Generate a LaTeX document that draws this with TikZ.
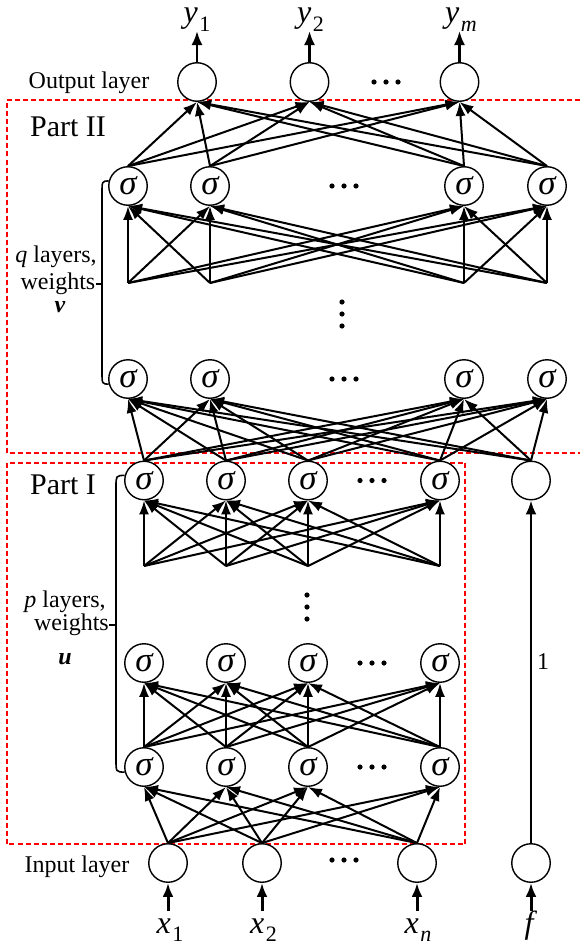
\documentclass[tikz,border=0pt]{standalone}
\usepackage{fontspec}
\setmainfont{Liberation Serif}
\usetikzlibrary{arrows.meta}

% three horizontal / vertical dots
\newcommand\dotsrow[2]{\foreach \k in {-1,0,1} {\fill (#1+\k*12,#2) circle (2.6pt);}}
\newcommand\dotscol[2]{\foreach \k in {-1,0,1} {\fill (#1,#2+\k*12) circle (2.6pt);}}
% variable with lowered subscript
\newcommand\varlab[2]{\textit{#1}\hspace{1.5pt}\raisebox{-8.5pt}{\fontsize{22}{22}\selectfont #2}}

\tikzset{
  neuron/.style={circle, draw, line width=1.4pt, minimum size=38.5pt, inner sep=0pt, fill=white},
  sig/.style={neuron, font=\fontsize{35}{35}\selectfont\itshape},
  conn/.style={line width=2pt, -{Latex[length=14pt,width=10pt]}},
  ioarrow/.style={line width=3pt, -{Latex[length=14pt,width=11pt]}},
  outarrow/.style={line width=2.4pt, -{Latex[length=14pt,width=11pt]}},
  redbox/.style={red, line width=2pt, dash pattern=on 5pt off 3pt},
  lab/.style={inner sep=0pt, font=\fontsize{24}{28}\selectfont},
  parttitle/.style={inner sep=0pt, font=\fontsize{30}{34}\selectfont},
  varname/.style={inner sep=0pt, anchor=base, font=\fontsize{32}{34}\selectfont},
  brace/.style={line width=1.6pt}
}

\begin{document}
\begin{tikzpicture}[x=1pt, y=-1pt]
\useasboundingbox (0,0) rectangle (580,947);

% ---- part boxes ----
\draw[redbox] (580,100.5) -- (7,100.5) -- (7,452.7) -- (580,452.7);
\draw[redbox] (7,462.5) rectangle (465.4,844);

% ---- output layer ----
\node[neuron] (o1) at (197,82) {};
\node[neuron] (o2) at (309.5,82) {};
\node[neuron] (o3) at (459.5,82) {};
\dotsrow{386}{82}
\node[lab] (outlab) at (89,83) {Output layer};

% ---- part II ----
\node[parttitle] (p2lab) at (68,127) {Part II};
\foreach \n/\x in {1/128,2/210,3/464,4/547} {
  \node[sig] (a\n) at (\x,186) {σ};
  \node[sig] (b\n) at (\x,379) {σ};
  \coordinate (q\n) at (\x,283);
}
\dotsrow{344}{186}
\dotsrow{344}{379}
\dotscol{342}{314}

% ---- part I ----
\node[parttitle] (p1lab) at (63,485) {Part I};
\foreach \n/\x in {1/144,2/226,3/308,4/440} {
  \node[sig] (c\n) at (\x,480.5) {σ};
  \node[sig] (d\n) at (\x,663) {σ};
  \node[sig] (g\n) at (\x,767) {σ};
  \coordinate (r\n) at (\x,566);
}
\node[neuron] (pc) at (531,480.5) {};
\dotsrow{372}{480.5}
\dotsrow{372}{663}
\dotsrow{372}{767}
\dotscol{307}{607}

% ---- input layer ----
\node[neuron] (i1) at (168,863) {};
\node[neuron] (i2) at (262,863) {};
\node[neuron] (i3) at (417,863) {};
\node[neuron] (fin) at (531,863) {};
\dotsrow{344}{860}
\node[lab] (inlab) at (77,867) {Input layer};

% ---- connections ----
\foreach \s in {i1,i2,i3} \foreach \t in {g1,g2,g3,g4} \draw[conn] (\s.north) -- (\t.south);
\foreach \s in {g1,g2,g3,g4} \foreach \t in {d1,d2,d3,d4} \draw[conn] (\s.north) -- (\t.south);
\foreach \s in {r1,r2,r3,r4} \foreach \t in {c1,c2,c3,c4} \draw[conn] (\s) -- (\t.south);
\foreach \s in {c1,c2,c3,c4,pc} \foreach \t in {b1,b2,b3,b4} \draw[conn] (\s.north) -- (\t.south);
\foreach \s in {q1,q2,q3,q4} \foreach \t in {a1,a2,a3,a4} \draw[conn] (\s) -- (\t.south);
\foreach \s in {a1,a2,a3,a4} \foreach \t in {o1,o2,o3} \draw[conn] (\s.north) -- (\t.south);

% bias path
\draw[outarrow] (fin.north) -- node[pos=0.53, right=5pt, lab] (one) {1} (pc.south);

% ---- outputs ----
\foreach \n in {1,2,3} {
  \path (o\n.north) ++(0,-31) coordinate (ye\n);
  \draw[outarrow] (o\n.north) -- (ye\n);
}
\node[varname] (y1) at (197,23) {\varlab{y}{1}};
\node[varname] (y2) at (310.5,23) {\varlab{y}{2}};
\node[varname] (ym) at (461,23) {\varlab{y}{\textit{m}}};

% ---- inputs ----
\foreach \s/\x in {i1/168,i2/262,i3/417,fin/531} {
  \coordinate (xs\s) at (\x,911);
  \draw[ioarrow] (xs\s) -- (\s.south);
}
\node[varname] (x1) at (170,933) {\varlab{x}{1}};
\node[varname] (x2) at (263.5,933) {\varlab{x}{2}};
\node[varname] (xn) at (418,933) {\varlab{x}{\textit{n}}};
\node[varname] (fl) at (531,933) {\textit{f}};

% ---- bracket for q layers ----
\draw[brace] (a1.165) .. controls (102,181.2) .. (102,193) -- (102,372) .. controls (102,383.9) .. (b1.195);
\node[lab, anchor=east] (qw) at (95.5,284) {weights};
\draw[brace] (qw.east) -- (102,284);
\node[lab] (ql) at (56,257) {\textit{q} layers,};
\node[lab] (qv) at (60,307) {\textbf{\textit{v}}};

% ---- bracket for p layers ----
\draw[brace] (c1.165) .. controls (116,475.6) .. (116,487) -- (116,760) .. controls (116,771.9) .. (g1.195);
\node[lab, anchor=east] (pw) at (109,625) {weights};
\draw[brace] (pw.east) -- (116,625);
\node[lab] (pl) at (65,602) {\textit{p} layers,};
\node[lab] (pu) at (65,659) {\textbf{\textit{u}}};
\end{tikzpicture}
\end{document}
